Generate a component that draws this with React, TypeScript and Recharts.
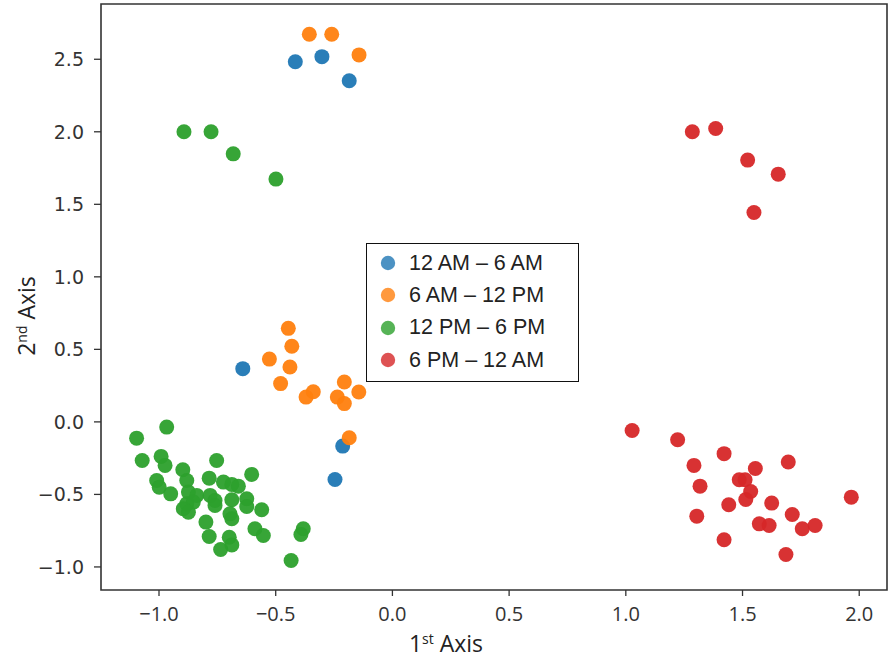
import React from 'react';
import { ScatterChart, Scatter, XAxis, YAxis, ReferenceArea, Legend } from 'recharts';

const seriesNames = ['12 AM – 6 AM', '6 AM – 12 PM', '12 PM – 6 PM', '6 PM – 12 AM'];
const seriesColors = ['#1f77b4', '#ff7f0e', '#2ca02c', '#d62728'];

const amNightX = [-0.416, -0.302, -0.185, -0.641, -0.213, -0.246];
const amNightY = [2.483, 2.518, 2.352, 0.367, -0.167, -0.397];

const morningX = [-0.356, -0.26, -0.143, -0.446, -0.431, -0.527, -0.439, -0.479, -0.37, -0.339, -0.206, -0.144, -0.236, -0.206, -0.185];
const morningY = [2.672, 2.672, 2.53, 0.645, 0.521, 0.433, 0.378, 0.264, 0.171, 0.208, 0.275, 0.206, 0.171, 0.126, -0.109];

const afternoonX = [
  -0.893, -0.777, -0.682, -0.499,
  -1.096, -0.967, -1.072, -0.991, -0.974, -0.753, -0.898, -0.603, -0.785, -1.01,
  -0.881, -0.724, -0.688, -0.66, -0.999, -0.95, -0.874, -0.838, -0.781, -0.76,
  -0.688, -0.624, -0.881, -0.896, -0.853, -0.76, -0.624, -0.56, -0.874, -0.696,
  -0.688, -0.799, -0.589, -0.553, -0.382, -0.392, -0.785, -0.699, -0.688, -0.736, -0.434,
];
const afternoonY = [
  2.0, 2.0, 1.848, 1.674,
  -0.112, -0.036, -0.266, -0.238, -0.3, -0.266, -0.33, -0.362, -0.388, -0.404,
  -0.404, -0.415, -0.431, -0.443, -0.45, -0.496, -0.484, -0.507, -0.507, -0.542,
  -0.537, -0.53, -0.565, -0.599, -0.553, -0.576, -0.583, -0.606, -0.623, -0.634,
  -0.668, -0.691, -0.737, -0.783, -0.737, -0.776, -0.79, -0.795, -0.848, -0.88, -0.956,
];

const eveningX = [
  1.285, 1.385, 1.522, 1.653, 1.549,
  1.027, 1.222, 1.421, 1.292, 1.555, 1.696, 1.318, 1.486, 1.511, 1.535, 1.514,
  1.966, 1.441, 1.625, 1.304, 1.713, 1.572, 1.614, 1.756, 1.811, 1.421, 1.686,
];
const eveningY = [
  2.0, 2.023, 1.805, 1.708, 1.444,
  -0.059, -0.123, -0.219, -0.3, -0.321, -0.277, -0.443, -0.399, -0.399, -0.48, -0.535,
  -0.519, -0.571, -0.56, -0.65, -0.638, -0.703, -0.714, -0.737, -0.714, -0.813, -0.914,
];

const xTicks = [-1.0, -0.5, 0.0, 0.5, 1.0, 1.5, 2.0];
const yTicks = [-1.0, -0.5, 0.0, 0.5, 1.0, 1.5, 2.0, 2.5];
const xDomain = [-1.2485, 2.119];
const yDomain = [-1.159, 2.881];

const toPoints = (xs: number[], ys: number[]) => xs.map((x, i) => ({ x, y: ys[i] }));
const allSeries = [
  toPoints(amNightX, amNightY),
  toPoints(morningX, morningY),
  toPoints(afternoonX, afternoonY),
  toPoints(eveningX, eveningY),
];

const fmt = (v: number) => (v < 0 ? '\u2212' : '') + Math.abs(v).toFixed(1);

const makeDot = (color: string) => (props: any) => (
  <circle cx={props.cx} cy={props.cy} r={7.5} fill={color} fillOpacity={0.95} />
);

const renderLegend = () => (
  <div
    style={{
      border: '1.5px solid #111',
      background: '#fff',
      width: 211,
      height: 134,
      boxSizing: 'content-box',
      fontFamily: '"Liberation Sans", Arial, sans-serif',
      fontSize: 21.5,
      color: '#222',
      paddingTop: 3,
    }}
  >
    {seriesNames.map((n, i) => (
      <div key={n} style={{ display: 'flex', alignItems: 'center', height: 32.3 }}>
        <svg width={16} height={16} style={{ marginLeft: 13, marginRight: 13 }}>
          <circle cx={8} cy={8} r={7.2} fill={seriesColors[i]} fillOpacity={0.8} />
        </svg>
        <span>{n}</span>
      </div>
    ))}
  </div>
);

const XLabel = () => (
  <text x={446} y={652} textAnchor="middle" fontFamily='"Open Sans", "Liberation Sans", sans-serif' fontSize={23} fill="#222">
    <tspan>1</tspan>
    <tspan dy={-8} fontSize={14}>st</tspan>
    <tspan dy={8}> Axis</tspan>
  </text>
);

const YLabel = () => (
  <text
    x={0}
    y={0}
    transform="translate(35,316) rotate(-90)"
    textAnchor="middle"
    fontFamily='"Open Sans", "Liberation Sans", sans-serif'
    fontSize={23}
    fill="#222"
  >
    <tspan>2</tspan>
    <tspan dy={-8} fontSize={14}>nd</tspan>
    <tspan dy={8}> Axis</tspan>
  </text>
);

export default function App() {
  return (
    <div style={{ position: 'absolute', left: 0, top: 0, width: 892, height: 659, background: '#fff' }}>
      <ScatterChart width={892} height={659} margin={{ top: 4, right: 5, bottom: 0, left: 0 }}>
        <XAxis
          type="number"
          dataKey="x"
          domain={xDomain}
          ticks={xTicks}
          allowDataOverflow
          tickFormatter={fmt}
          height={69}
          tickSize={6}
          tickMargin={11}
          axisLine={false}
          tickLine={{ stroke: '#333', strokeWidth: 1.3 }}
          tick={{ fill: '#333', fontSize: 20, fontFamily: '"Open Sans", "Liberation Sans", sans-serif' }}
          label={{ content: () => <XLabel /> }}
        />
        <YAxis
          type="number"
          dataKey="y"
          domain={yDomain}
          ticks={yTicks}
          allowDataOverflow
          tickFormatter={fmt}
          width={101}
          tickSize={7}
          tickMargin={10}
          axisLine={false}
          tickLine={{ stroke: '#333', strokeWidth: 1.3 }}
          tick={{ fill: '#333', fontSize: 19, fontFamily: '"DejaVu Sans", sans-serif' }}
          label={{ content: () => <YLabel /> }}
        />
        <ReferenceArea
          x1={xDomain[0]}
          x2={xDomain[1]}
          y1={yDomain[0]}
          y2={yDomain[1]}
          fill="none"
          stroke="#333"
          strokeWidth={1.6}
          ifOverflow="visible"
        />
        {allSeries.map((pts, i) => (
          <Scatter
            key={seriesNames[i]}
            name={seriesNames[i]}
            data={pts}
            fill={seriesColors[i]}
            shape={makeDot(seriesColors[i])}
            isAnimationActive={false}
          />
        ))}
        <Legend
          layout="vertical"
          align="center"
          verticalAlign="middle"
          content={renderLegend}
          wrapperStyle={{ left: 366, top: 243, width: 214, height: 137 }}
        />
      </ScatterChart>
    </div>
  );
}
